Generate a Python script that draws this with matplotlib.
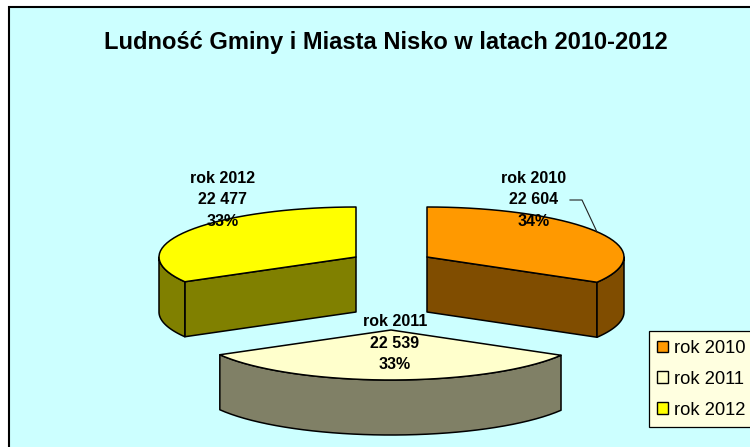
#!/usr/bin/env python3
import matplotlib
matplotlib.use("Agg")
import matplotlib.pyplot as plt
from matplotlib.patches import Polygon, Rectangle, Patch
from matplotlib.colors import to_rgb
import numpy as np

years = ["rok 2010", "rok 2011", "rok 2012"]
people = [22604, 22539, 22477]
people_txt = ["22 604", "22 539", "22 477"]
percent = ["34%", "33%", "33%"]
colors = ["#FF9900", "#FFFFCC", "#FFFF00"]

title = "Ludność Gminy i Miasta Nisko w latach 2010-2012"

# layout, in pixels of the picture
apex = [(427, 257), (391, 330), (356, 257)]
label_pos = [(534, 200), (395, 343), (223, 200)]
rx, ry, depth = 197, 50, 55

plt.rcParams["font.family"] = ["Liberation Sans", "DejaVu Sans"]

fig = plt.figure(figsize=(7.5, 4.47), dpi=100)
ax = fig.add_axes([0, 0, 1, 1])
ax.set_xlim(0, 750)
ax.set_ylim(447, 0)
ax.axis("off")

ax.add_patch(Rectangle((9, 6.5), 760, 460, fc="#CCFFFF", ec="black", lw=1.5, zorder=0))
ax.text(386, 43, title, fontsize=17, fontweight="bold", ha="center", va="center")


def rim(cx, cy, a, b, n=40):
    # a, b in radians, clockwise from 12 o'clock
    t = np.linspace(a, b, n)
    return np.column_stack([cx + rx * np.sin(t), cy - ry * np.cos(t)])


def draw_slice(i, a, b):
    cx, cy = apex[i]
    face = np.array(to_rgb(colors[i]))
    side = face * 0.5
    kw = dict(fc=side, ec="black", lw=1.1, joinstyle="round")
    # side walls go first, the top face covers them
    for ang, seen in ((b, np.sin(b) > 1e-6), (a, np.sin(a) < -1e-6)):
        if seen:
            p = rim(cx, cy, ang, ang, 1)[0]
            ax.add_patch(Polygon([(cx, cy), p, p + (0, depth), (cx, cy + depth)], **kw))
    lo, hi = max(a, np.pi / 2), min(b, 3 * np.pi / 2)
    if hi > lo:
        top = rim(cx, cy, lo, hi)
        low = top[::-1] + (0, depth)
        ax.add_patch(Polygon(np.vstack([top, low]), **kw))
    pts = np.vstack([[(cx, cy)], rim(cx, cy, a, b)])
    ax.add_patch(Polygon(pts, fc=face, ec="black", lw=1.1, joinstyle="round"))


edges = np.concatenate([[0], np.cumsum(people)]) / sum(people) * 2 * np.pi
# the front slice overlaps nothing behind it only if drawn last
for i in (2, 0, 1):
    draw_slice(i, edges[i], edges[i + 1])

for i in range(3):
    ax.text(label_pos[i][0], label_pos[i][1], f"{years[i]}\n{people_txt[i]}\n{percent[i]}",
            fontsize=11.5, fontweight="bold", ha="center", va="center",
            linespacing=1.54, zorder=5)

# leader of the 2010 label
ax.plot([570, 582, 597], [200, 200, 232], color="#222222", lw=0.8, zorder=4)

handles = [Patch(fc=c, ec="black", lw=1.0) for c in colors]
leg = ax.legend(handles, years, loc="upper left", bbox_to_anchor=(648.5, 331),
                bbox_transform=ax.transData, fontsize=13.2, frameon=True, fancybox=False,
                facecolor="#FFFFE0", edgecolor="black", framealpha=1, borderaxespad=0,
                handlelength=0.6, handleheight=0.6, handletextpad=0.33,
                labelspacing=0.76, borderpad=0.48)
leg.get_frame().set_linewidth(0.9)

fig.savefig("out.png", dpi=100)
